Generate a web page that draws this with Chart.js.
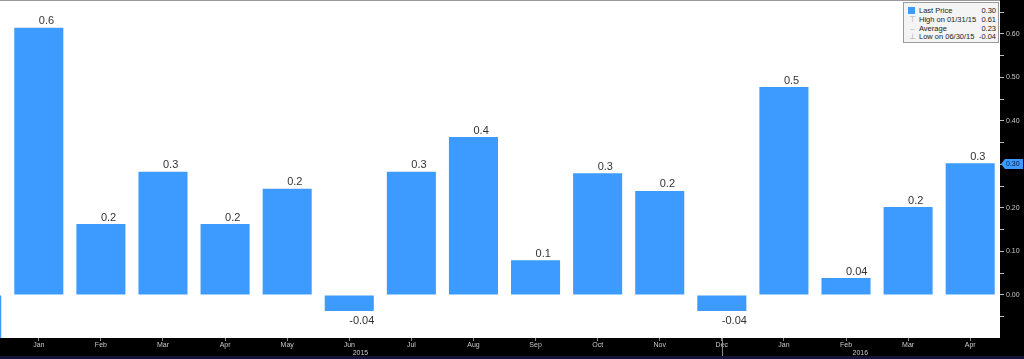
<!DOCTYPE html>
<html>
<head>
<meta charset="utf-8">
<script src="https://cdn.jsdelivr.net/npm/chart.js@4.4.1/dist/chart.umd.min.js"></script>
<style>
  html,body{margin:0;padding:0;background:#000;}
  #wrap{position:relative;width:1024px;height:359px;overflow:hidden;}
  canvas{display:block;}
  #legend{position:absolute;left:903px;top:2px;width:96px;height:41px;background:#f4f4f4;border:1px solid #9a9a9a;
    font-family:"Liberation Sans",Arial,sans-serif;font-size:7.5px;color:#222;box-sizing:border-box;}
  .row{position:absolute;left:0;width:100%;height:9px;line-height:9px;}
  .row .n{position:absolute;left:15px;}
  .row .v{position:absolute;right:2px;}
  .row .ic{position:absolute;left:4px;width:8px;text-align:center;color:#aaa;}
  .sq{position:absolute;left:4px;top:1px;width:7px;height:7px;background:#3d9bff;}
</style>
</head>
<body>
<div id="wrap">
<canvas id="c" width="1024" height="359"></canvas>
<div id="legend">
  <div class="row" style="top:3px"><div class="sq"></div><span class="n">Last Price</span><span class="v" id="lv0"></span></div>
  <div class="row" style="top:12px"><span class="ic">&#8868;</span><span class="n">High on 01/31/15</span><span class="v" id="lv1"></span></div>
  <div class="row" style="top:21px"><span class="ic">&#8211;</span><span class="n">Average</span><span class="v" id="lv2"></span></div>
  <div class="row" style="top:29px"><span class="ic">&#8869;</span><span class="n">Low on 06/30/15</span><span class="v" id="lv3"></span></div>
</div>
</div>
<script>
// ---- data ----
const months = ["Jan","Feb","Mar","Apr","May","Jun","Jul","Aug","Sep","Oct","Nov","Dec","Jan","Feb","Mar","Apr"];
const years = ["2015","2016"];
// first value is the partially visible bar before Jan 2015
const prevValue = [-0.12];
const values = [0.614,0.163,0.283,0.163,0.244,-0.037,0.283,0.363,0.080,0.280,0.239,-0.037,0.478,0.039,0.202,0.303];
const barLabels = ["0.6","0.2","0.3","0.2","0.2","-0.04","0.3","0.4","0.1","0.3","0.2","-0.04","0.5","0.04","0.2","0.3"];
const legendValues = ["0.30","0.61","0.23","-0.04"];
const lastPrice = [0.30];
const yTickValues = [-0.05,0.00,0.05,0.10,0.15,0.20,0.25,0.30,0.35,0.40,0.45,0.50,0.55,0.60,0.65];

legendValues.forEach((v,i)=>{document.getElementById('lv'+i).textContent=v;});

const points = [{x:-1,y:prevValue[0]}].concat(values.map((v,i)=>({x:i,y:v})));
const BAR = '#3d9bff';

const bgPlugin = {
  id:'bg',
  beforeDraw(chart){
    const {ctx, chartArea:a, width, height} = chart;
    ctx.save();
    ctx.fillStyle='#000'; ctx.fillRect(0,0,width,height);
    ctx.fillStyle='#14143a'; ctx.fillRect(0,356,width,height-356);
    ctx.fillStyle='#fff'; ctx.fillRect(a.left,a.top,a.right-a.left,a.bottom-a.top);
    ctx.fillStyle='#9a9a9a'; ctx.fillRect(a.left,0,a.right-a.left,1);
    ctx.restore();
  },
  afterDraw(chart){
    const {ctx, chartArea:a} = chart;
    const xs = chart.scales.x, ys = chart.scales.y;
    ctx.save();
    // bar value labels
    ctx.font = '11px "Liberation Sans", Arial, sans-serif';
    ctx.fillStyle = '#333';
    ctx.textAlign = 'left';
    values.forEach((v,i)=>{
      const px = xs.getPixelForValue(i);
      if(v>=0){ ctx.textBaseline='bottom'; ctx.fillText(barLabels[i], px, ys.getPixelForValue(v)-1); }
      else { ctx.textBaseline='top'; ctx.fillText(barLabels[i], px, ys.getPixelForValue(v)+4); }
    });
    // year labels and separator
    ctx.font = '7px "Liberation Sans", Arial, sans-serif';
    ctx.fillStyle = '#c8c8c8';
    ctx.textAlign='center'; ctx.textBaseline='middle';
    ctx.fillText(years[0], xs.getPixelForValue(5.18), 353);
    ctx.fillText(years[1], xs.getPixelForValue(13.23), 353);
    ctx.strokeStyle='#8a8a8a'; ctx.lineWidth=1;
    const sx = Math.round(xs.getPixelForValue(11))+0.5;
    ctx.beginPath(); ctx.moveTo(sx,a.bottom); ctx.lineTo(sx,356); ctx.stroke();
    // last price marker on right axis
    const py = Math.round(ys.getPixelForValue(lastPrice[0]));
    const x0 = a.right+1;
    ctx.fillStyle = BAR;
    ctx.beginPath();
    ctx.moveTo(x0,py); ctx.lineTo(x0+4,py-5); ctx.lineTo(1023,py-5); ctx.lineTo(1023,py+5); ctx.lineTo(x0+4,py+5); ctx.closePath();
    ctx.fill();
    ctx.fillStyle='#0b1a3a'; ctx.textAlign='left';
    ctx.fillText(lastPrice[0].toFixed(2), x0+5, py+0.5);
    ctx.restore();
  }
};

new Chart(document.getElementById('c'), {
  type:'bar',
  data:{ datasets:[{ data: points, backgroundColor: BAR, borderWidth:0, barPercentage:0.79, categoryPercentage:1 }] },
  options:{
    responsive:false, animation:false,
    layout:{padding:0, autoPadding:false},
    plugins:{legend:{display:false}, tooltip:{enabled:false}},
    scales:{
      x:{
        type:'linear', min:-0.625, max:15.48, position:'bottom', offset:false,
        afterBuildTicks(axis){ axis.ticks = months.map((m,i)=>({value:i})); },
        afterFit(axis){ axis.height = 21; axis.paddingLeft = 0; axis.paddingRight = 0; },
        grid:{display:true, drawOnChartArea:false, drawTicks:true, tickLength:3, color:'#8a8a8a', offset:false},
        border:{display:false},
        ticks:{ autoSkip:false, maxRotation:0, padding:0, color:'#c8c8c8',
          font:{size:7, family:'"Liberation Sans", Arial, sans-serif'},
          callback:(v)=> months[v] }
      },
      y:{
        position:'right', min:-0.099, max:0.678,
        afterBuildTicks(axis){ axis.ticks = yTickValues.map(v=>({value:v})); },
        afterFit(axis){ axis.width = 24; axis.paddingTop = 0; axis.paddingBottom = 0; },
        grid:{display:true, drawOnChartArea:false, drawTicks:true, tickLength:4, color:'#bbb'},
        border:{display:false},
        ticks:{ padding:2, color:'#c8c8c8',
          font:{size:7, family:'"Liberation Sans", Arial, sans-serif'},
          callback:(v)=> (Math.round(v*100)%10===0 ? v.toFixed(2) : '') }
      }
    }
  },
  plugins:[bgPlugin]
});
</script>
</body>
</html>
